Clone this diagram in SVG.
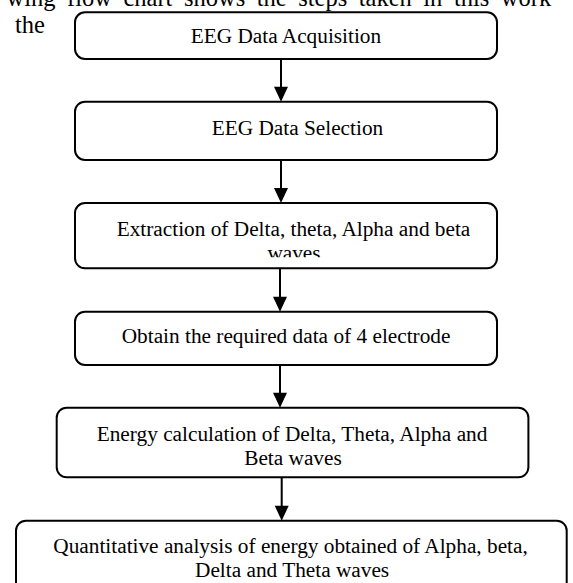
<svg xmlns="http://www.w3.org/2000/svg" width="573" height="583" viewBox="0 0 573 583">
<style>
.box{fill:#fff;stroke:#000;stroke-width:2}
.t{font-family:"Liberation Serif","Times New Roman",serif;font-size:21.3px;fill:#000}
.h{font-family:"Liberation Serif","Times New Roman",serif;font-size:24.5px;fill:#000}
.shaft{stroke:#000;stroke-width:2;fill:none}
.head{fill:#000;stroke:none}
</style>
<defs>
<clipPath id="clip3"><rect x="75" y="203" width="422" height="54.3"/></clipPath>
<clipPath id="clip4"><rect x="75" y="311.7" width="422" height="44"/></clipPath>
</defs>
<rect width="573" height="583" fill="#fff"/>
<g id="page-text">
<text class="h" x="6.5" y="5.5" word-spacing="5.4">wing flow chart shows the steps taken in this work</text>
<text class="h" x="15" y="33.3">the</text>
</g>
<g id="connectors">
<line class="shaft" x1="281" y1="59" x2="281" y2="90"/>
<polygon class="head" points="274,86.7 288,86.7 281,101.7"/>
<line class="shaft" x1="281" y1="160" x2="281" y2="192"/>
<polygon class="head" points="274,188 288,188 281,203"/>
<line class="shaft" x1="280" y1="268.3" x2="280" y2="300"/>
<polygon class="head" points="273,296.7 287,296.7 280,311.7"/>
<line class="shaft" x1="280" y1="365" x2="280" y2="396"/>
<polygon class="head" points="273,392.7 287,392.7 280,407.7"/>
<line class="shaft" x1="281.7" y1="477.3" x2="281.7" y2="509"/>
<polygon class="head" points="274.7,505.7 288.7,505.7 281.7,520.7"/>
</g>
<g id="node1">
<rect class="box" x="75" y="12.3" width="422" height="46.7" rx="10"/>
<text class="t" x="190.7" y="42.7">EEG Data Acquisition</text>
</g>
<g id="node2">
<rect class="box" x="75" y="101.7" width="422" height="58.3" rx="10"/>
<text class="t" x="211.7" y="135">EEG Data Selection</text>
</g>
<g id="node3">
<rect class="box" x="75" y="203" width="422" height="65.3" rx="10"/>
<text class="t" x="116.7" y="235.7">Extraction of Delta, theta, Alpha and beta</text>
<text class="t" x="294" y="259.7" text-anchor="middle" clip-path="url(#clip3)">waves</text>
</g>
<g id="node4">
<rect class="box" x="75" y="311.7" width="422" height="53.3" rx="10"/>
<text class="t" x="121.7" y="343.3">Obtain the required data of 4 electrode</text>
</g>
<g id="node5">
<rect class="box" x="56.7" y="407.7" width="471.7" height="69.6" rx="10"/>
<text class="t" x="96.7" y="441">Energy calculation of Delta, Theta, Alpha and</text>
<text class="t" x="244.2" y="465">Beta waves</text>
</g>
<g id="node6">
<rect class="box" x="16" y="520.7" width="550.7" height="80" rx="10"/>
<text class="t" x="53.3" y="553.3">Quantitative analysis of energy obtained of Alpha, beta,</text>
<text class="t" x="195" y="577">Delta and Theta waves</text>
</g>
</svg>
